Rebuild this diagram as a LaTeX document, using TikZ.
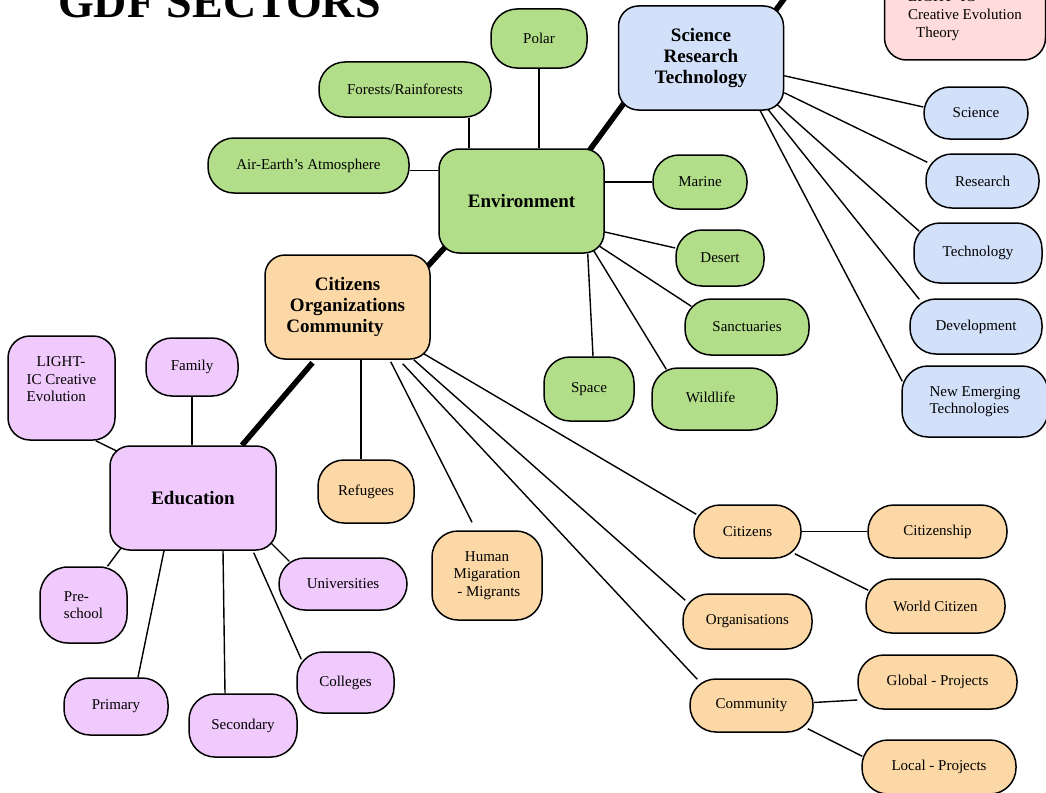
\documentclass[tikz,border=0pt]{standalone}
\usepackage{fontspec}
\setmainfont{Liberation Serif}
\definecolor{cgreen}{RGB}{178,222,138}
\definecolor{cblue}{RGB}{210,224,250}
\definecolor{corange}{RGB}{252,216,166}
\definecolor{cpurple}{RGB}{240,202,252}
\definecolor{cpink}{RGB}{255,219,219}
\pgfdeclarelayer{back}
\pgfdeclarelayer{bg}
\pgfsetlayers{back,bg,main}
\begin{document}
\begin{tikzpicture}[x=1pt,y=-1pt,
  sm/.style={draw=black, line width=1.5pt, rounded corners=26pt, inner sep=0pt,
    font=\fontsize{15}{17.5}\selectfont, align=center},
  hub/.style={draw=black, line width=1.5pt, rounded corners=20pt, inner sep=0pt,
    minimum width=165pt, minimum height=104pt,
    font=\bfseries\fontsize{19}{21}\selectfont, align=center},
  dims/.style 2 args={minimum width=#1pt, minimum height=#2pt},
  ln/.style={line width=1.4pt},
  heavy/.style={line width=5.5pt}]
\clip (0,0) rectangle (1046,792);
\begin{pgfonlayer}{back}
\fill[white] (0,0) rectangle (1046,792);
\end{pgfonlayer}

% title
\node[font=\bfseries\fontsize{46}{46}\selectfont, anchor=base west, inner sep=0pt] (title) at (58,18) {GDF SECTORS};

% pink box
\node[sm, fill=cpink, rounded corners=22pt, dims={161}{88}, align=left, font=\fontsize{15}{18}\selectfont] (lightt) at (965,16)
  {LIGHT- IC\\Creative Evolution\\\hspace*{8pt}Theory};

% hubs
\node[hub, fill=cblue] (sci) at (701,58) {Science\\Research\\Technology};
\node[hub, fill=cgreen] (env) at (521.5,201) {Environment};
\node[hub, fill=corange] (cit) at (347.5,307) {Citizens\\Organizations\\Community\hspace*{25pt}};
\node[hub, fill=cpurple, minimum width=166pt] (edu) at (193,498) {Education};

% environment
\node[sm, fill=cgreen, dims={96}{59}] (polar) at (539,38.5) {Polar};
\node[sm, fill=cgreen, dims={172}{55}] (forests) at (405,89.5) {Forests/Rainforests};
\node[sm, fill=cgreen, dims={201}{55}] (air) at (308.5,165.5) {Air-Earth’s Atmosphere};
\node[sm, fill=cgreen, dims={94}{54}] (marine) at (700,182) {Marine};
\node[sm, fill=cgreen, dims={88}{56}] (desert) at (720,258) {Desert};
\node[sm, fill=cgreen, dims={124}{56}] (sanct) at (747,327) {Sanctuaries};
\node[sm, fill=cgreen, dims={125}{62}] (wild) at (714.5,399) {\raisebox{3pt}{Wildlife}\hspace*{8pt}};
\node[sm, fill=cgreen, dims={90}{64}] (space) at (589,389) {Space};

% science
\node[sm, fill=cblue, dims={104}{52}] (scin) at (976,113) {Science};
\node[sm, fill=cblue, dims={113}{54}] (res) at (982.5,181) {Research};
\node[sm, fill=cblue, dims={128}{60}] (tech) at (978,253) {Technology};
\node[sm, fill=cblue, dims={132}{55}] (dev) at (976,326.5) {Development};
\node[sm, fill=cblue, dims={146}{71}, align=left] (newt) at (975,401.5) {New Emerging\\Technologies};

% citizens
\node[sm, fill=corange, dims={96}{63}] (ref) at (366,491.5) {Refugees};
\node[sm, fill=corange, dims={110}{89}] (hum) at (487,575.5) {Human\\Migaration\\\ - Migrants};
\node[sm, fill=corange, dims={107}{53}] (citz) at (747.5,531.5) {Citizens};
\node[sm, fill=corange, dims={139}{53}] (cship) at (937.5,531.5) {Citizenship};
\node[sm, fill=corange, dims={139}{54}] (world) at (935.5,606) {World Citizen};
\node[sm, fill=corange, dims={129}{55}] (org) at (747.5,621.5) {Organisations};
\node[sm, fill=corange, dims={123}{53}] (com) at (751.5,705.5) {Community};
\node[sm, fill=corange, dims={159}{54}] (glob) at (937.5,682) {Global - Projects};
\node[sm, fill=corange, dims={154}{54}] (local) at (939,767) {Local - Projects};

% education
\node[sm, fill=cpurple, rounded corners=22pt, dims={107}{104}, align=left] (light) at (61.5,388) {\hspace*{10pt}LIGHT-\\IC Creative\\Evolution\\\mbox{}};
\node[sm, fill=cpurple, dims={92}{58}] (fam) at (192,367) {Family};
\node[sm, fill=cpurple, rounded corners=28pt, dims={87}{76}, align=left] (pre) at (83.5,605) {Pre-\\school};
\node[sm, fill=cpurple, dims={104}{57}] (prim) at (116,706.5) {Primary};
\node[sm, fill=cpurple, dims={108}{63}] (sec) at (243,725.5) {Secondary};
\node[sm, fill=cpurple, dims={97}{61}] (col) at (345.5,682.5) {Colleges};
\node[sm, fill=cpurple, dims={128}{52}] (univ) at (343,584) {Universities};

\coordinate (topend) at (792,-12);
\coordinate (fx) at ([xshift=64pt]forests.south);
\coordinate (ax) at ([yshift=-5pt]air.east);
\coordinate (rx) at ([xshift=-5pt]ref.north);

\begin{pgfonlayer}{bg}
% heavy links
\draw[heavy] ([xshift=-16pt,yshift=-3pt]env.north east) -- ([xshift=8pt,yshift=10pt]sci.south west);
\draw[heavy] ([xshift=-10pt,yshift=-7pt]sci.north east) -- (topend);
\draw[heavy] ([xshift=-3pt,yshift=-12pt]cit.north east) -- ([xshift=9pt,yshift=9pt]env.south west);
\draw[heavy] ([xshift=-35pt,yshift=-3pt]cit.south) -- ([xshift=49pt]edu.north);

% environment
\draw[ln] (polar.south) -- (polar.south |- env.north);
\draw[ln] (fx) -- (fx |- env.north);
\draw[ln] (ax) -- (ax -| env.west);
\draw[ln] (marine.west) -- (marine.west -| env.east);
\draw[ln] ([xshift=-1pt,yshift=22pt]env.south east) -- ([yshift=10pt]desert.west);
\draw[ln] ([xshift=-6pt,yshift=8pt]env.south east) -- ([xshift=7pt,yshift=-8pt]sanct.north west);
\draw[ln] ([xshift=-11pt,yshift=3pt]env.south east) -- ([xshift=15pt,yshift=-2pt]wild.north west);
\draw[ln] ([xshift=-17pt]env.south east) -- ([xshift=4pt]space.north);

% science
\draw[ln] ([yshift=35pt]sci.south east) -- ([yshift=6pt]scin.west);
\draw[ln] ([yshift=18pt]sci.south east) -- ([xshift=2pt,yshift=-9pt]res.north west);
\draw[ln] ([xshift=-8pt,yshift=7pt]sci.south east) -- ([xshift=6pt,yshift=-9pt]tech.north west);
\draw[ln] ([xshift=-16pt,yshift=1pt]sci.south east) -- ([xshift=10pt,yshift=-1pt]dev.north west);
\draw[ln] ([xshift=-24pt]sci.south east) -- ([xshift=1pt,yshift=-16pt]newt.north west);

% citizens
\draw[ln] (rx |- cit.south) -- (rx);
\draw[ln] ([xshift=-40pt,yshift=-2pt]cit.south east) -- ([xshift=-15pt,yshift=8pt]hum.north);
\draw[ln] ([xshift=-7pt,yshift=6pt]cit.south east) -- ([xshift=3pt,yshift=-10pt]citz.north west);
\draw[ln] ([xshift=-17pt]cit.south east) -- ([xshift=3pt,yshift=-7pt]org.north west);
\draw[ln] ([xshift=-28pt,yshift=-4pt]cit.south east) -- ([xshift=8pt,yshift=-1pt]com.north west);
\draw[ln] (citz.east) -- (citz.east -| cship.west);
\draw[ln] ([xshift=-7pt,yshift=5pt]citz.south east) -- ([xshift=3pt,yshift=-12pt]world.north west);
\draw[ln] ([yshift=3pt]com.east) -- ([yshift=-18pt]glob.west);
\draw[ln] ([xshift=-6pt,yshift=4pt]com.south east) -- ([xshift=1pt,yshift=-17pt]local.north west);

% education
\draw[ln] ([xshift=10pt,yshift=-7pt]edu.north west) -- ([xshift=-20pt]light.south east);
\draw[ln] (fam.south) -- (fam.south |- edu.north);
\draw[ln] ([xshift=12pt,yshift=3pt]edu.south west) -- ([xshift=24pt]pre.north);
\draw[ln] ([xshift=-29pt]edu.south) -- ([xshift=22pt]prim.north);
\draw[ln] ([xshift=30pt]edu.south) -- ([xshift=-18pt]sec.north);
\draw[ln] ([xshift=-23pt,yshift=-2pt]edu.south east) -- ([xshift=5pt,yshift=-8pt]col.north west);
\draw[ln] ([xshift=-6pt,yshift=8pt]edu.south east) -- ([xshift=11pt,yshift=-4pt]univ.north west);
\end{pgfonlayer}
\end{tikzpicture}
\end{document}
